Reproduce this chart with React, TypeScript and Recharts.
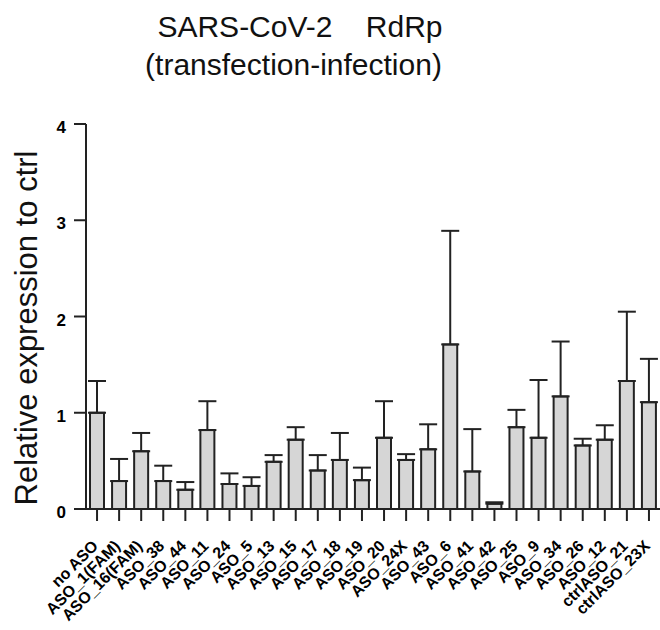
import { BarChart, Bar, XAxis, YAxis, ErrorBar } from "recharts";

const categories = [
  "no ASO", "ASO_1(FAM)", "ASO_16(FAM)", "ASO_38", "ASO_44", "ASO_11", "ASO_24", "ASO_5",
  "ASO_13", "ASO_15", "ASO_17", "ASO_18", "ASO_19", "ASO_20", "ASO_24X", "ASO_43", "ASO_6",
  "ASO_41", "ASO_42", "ASO_25", "ASO_9", "ASO_34", "ASO_26", "ASO_12", "ctrlASO_21", "ctrlASO_23X",
];
const means = [
  1.0, 0.29, 0.6, 0.29, 0.2, 0.82, 0.26, 0.24, 0.49, 0.72, 0.4, 0.51, 0.3, 0.74, 0.51, 0.62, 1.71,
  0.39, 0.055, 0.85, 0.74, 1.17, 0.66, 0.72, 1.33, 1.11,
];
// upper end of the error bar (mean + SD), only the upper whisker is drawn
const upper = [
  1.33, 0.52, 0.79, 0.45, 0.28, 1.12, 0.37, 0.33, 0.56, 0.85, 0.56, 0.79, 0.43, 1.12, 0.57, 0.88, 2.89,
  0.83, 0.07, 1.03, 1.34, 1.74, 0.73, 0.87, 2.05, 1.56,
];
const yTicks = [0, 1, 2, 3, 4];

const data = categories.map((name, i) => ({
  name,
  value: means[i],
  err: [0, Math.max(0, upper[i] - means[i])],
}));

const FONT = "'Liberation Sans', Arial, sans-serif";
const INK = "#222";

function XTick({ x, y, payload }: any) {
  const ax = x + 2;
  const ay = y + 24;
  return (
    <text
      x={ax}
      y={ay}
      textAnchor="end"
      transform={`rotate(-45, ${ax}, ${ay})`}
      fontFamily={FONT}
      fontWeight="bold"
      fontSize={16}
      fill="#000"
    >
      {payload.value}
    </text>
  );
}

export default function App() {
  return (
    <div style={{ position: "absolute", left: 0, top: 0, width: 660, height: 630, background: "#fff", fontFamily: FONT }}>
      <div style={{ position: "absolute", left: 0, width: 600, top: 9, textAlign: "center", fontSize: 30, lineHeight: "36px", color: "#111" }}>
        SARS-CoV-2&nbsp;&nbsp;&nbsp;&nbsp;RdRp
      </div>
      <div style={{ position: "absolute", left: 0, width: 587, top: 47, textAlign: "center", fontSize: 30, lineHeight: "36px", color: "#111" }}>
        (transfection-infection)
      </div>
      <div
        style={{
          position: "absolute",
          left: 27,
          top: 328,
          transform: "translate(-50%, -50%) rotate(-90deg)",
          whiteSpace: "nowrap",
          fontSize: 31,
          color: "#111",
        }}
      >
        Relative expression to ctrl
      </div>
      <BarChart width={660} height={630} data={data} margin={{ top: 124, right: 0, bottom: 0, left: 0 }} barCategoryGap={0}>
        <XAxis
          dataKey="name"
          interval={0}
          height={121}
          tick={<XTick />}
          tickSize={12}
          axisLine={{ stroke: INK, strokeWidth: 2 }}
          tickLine={{ stroke: INK, strokeWidth: 2 }}
        />
        <YAxis
          domain={[0, 4]}
          ticks={yTicks}
          width={86}
          tickSize={12}
          tickMargin={8}
          axisLine={{ stroke: INK, strokeWidth: 2 }}
          tickLine={{ stroke: INK, strokeWidth: 2 }}
          tick={{ fontFamily: FONT, fontWeight: "bold", fontSize: 17, fill: "#000", dy: 3 }}
        />
        <Bar dataKey="value" fill="#d6d6d6" stroke={INK} strokeWidth={2} barSize={14} isAnimationActive={false}>
          <ErrorBar dataKey="err" direction="y" width={9} stroke={INK} strokeWidth={2} isAnimationActive={false} />
        </Bar>
      </BarChart>
    </div>
  );
}
